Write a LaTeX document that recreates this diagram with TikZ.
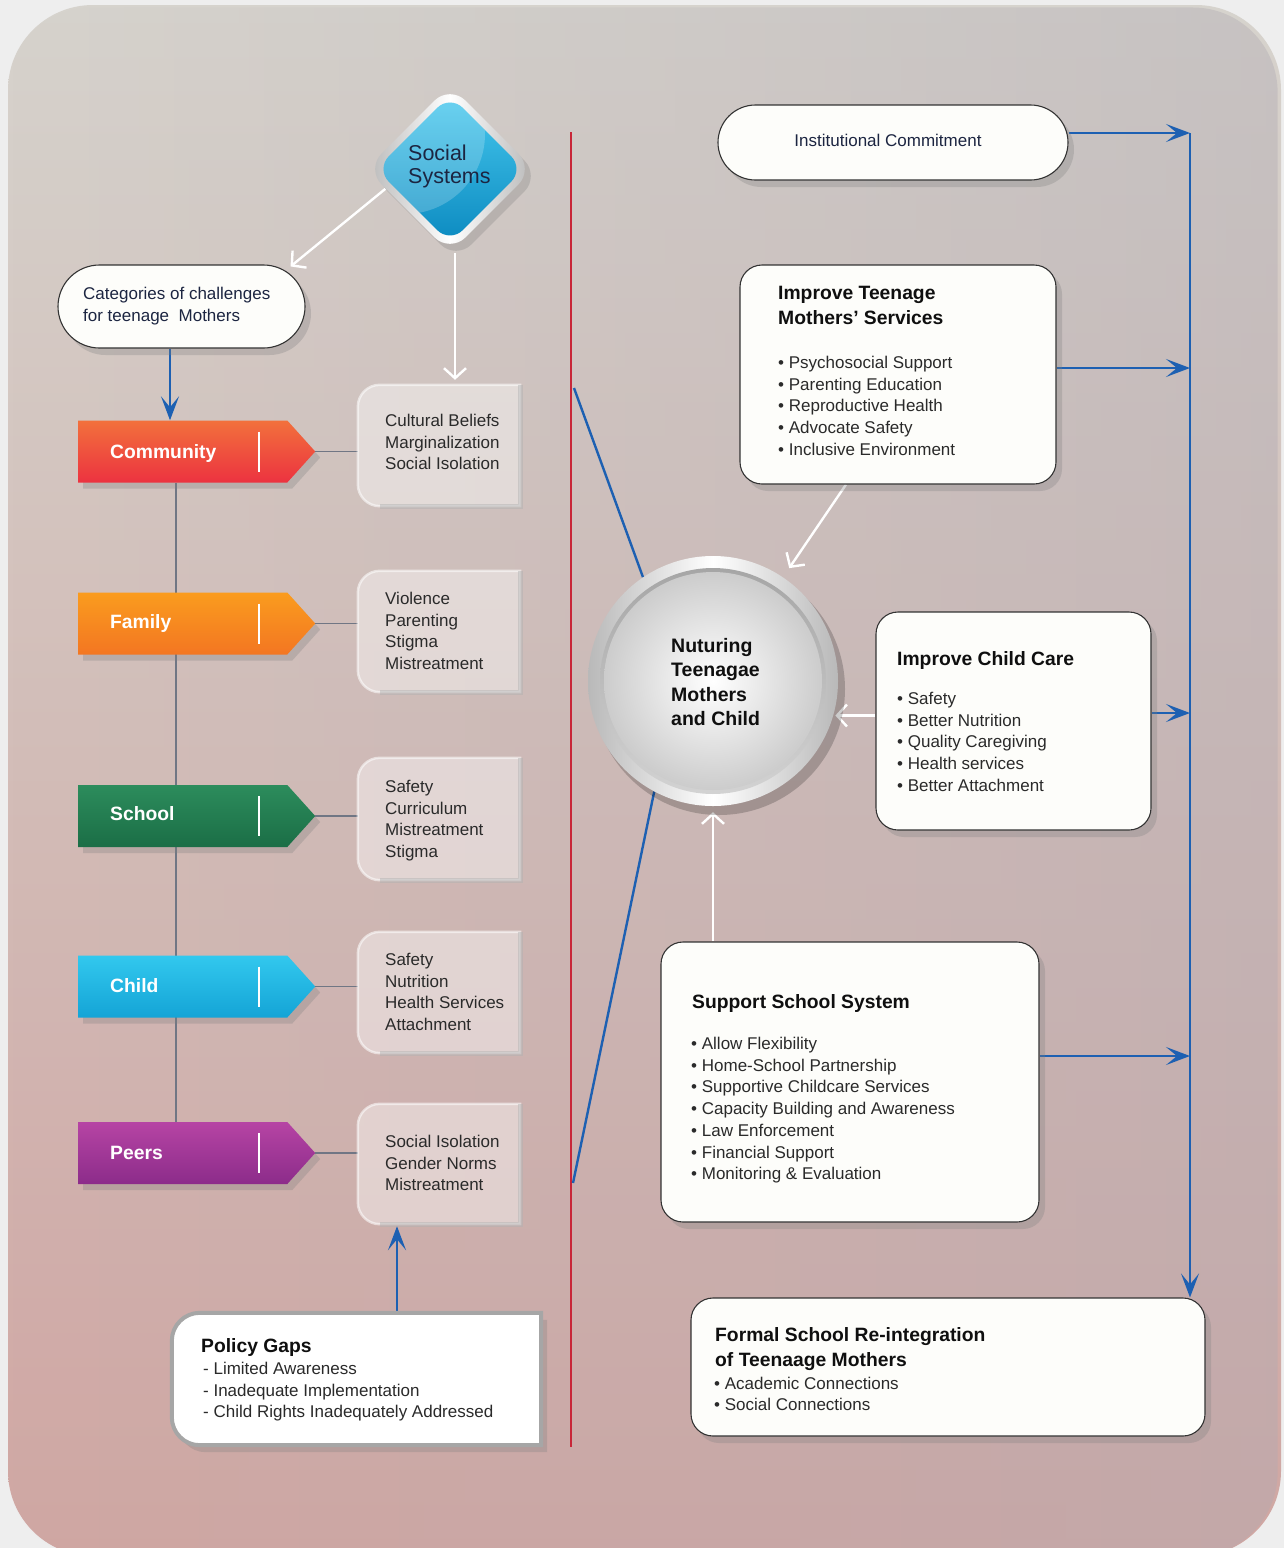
\documentclass[tikz,border=0pt]{standalone}
\usepackage{fontspec}
\setmainfont{Liberation Sans}
\usetikzlibrary{arrows.meta,shapes.geometric,shapes.symbols,shadows,calc,fadings}

\definecolor{pageGrey}{RGB}{238,238,238}
\definecolor{bgTop}{RGB}{214,211,205}
\definecolor{bgMid}{RGB}{224,202,186}
\definecolor{bgBot}{RGB}{208,166,162}
\definecolor{bgTint}{RGB}{176,170,178}
\definecolor{linkBlue}{RGB}{29,96,178}
\definecolor{dividerRed}{RGB}{200,38,56}
\definecolor{trunkGrey}{RGB}{112,118,132}
\definecolor{inkDark}{RGB}{42,42,42}
\definecolor{inkBlack}{RGB}{15,15,15}
\definecolor{inkNavy}{RGB}{28,37,65}
\definecolor{paper}{RGB}{253,253,250}
\definecolor{comTop}{RGB}{242,112,60}
\definecolor{comBot}{RGB}{236,50,64}
\definecolor{famTop}{RGB}{250,156,30}
\definecolor{famBot}{RGB}{243,118,34}
\definecolor{schTop}{RGB}{44,140,92}
\definecolor{schBot}{RGB}{27,110,70}
\definecolor{chiTop}{RGB}{50,200,238}
\definecolor{chiBot}{RGB}{20,164,214}
\definecolor{peeTop}{RGB}{182,68,164}
\definecolor{peeBot}{RGB}{140,44,138}
\definecolor{glossTop}{RGB}{70,200,238}
\definecolor{glossBot}{RGB}{12,138,192}

\tikzfading[name=towardright, left color=transparent!100, right color=transparent!0]

\pgfdeclarelayer{back}
\pgfdeclarelayer{links}
\pgfsetlayers{back,links,main}

% box with rounded left corners and square right corners, drawn round a node
\newcommand\leftroundbox[3]{%
  \path[#3] ([xshift=#2]#1.north west) -- (#1.north east) -- (#1.south east)
    -- ([xshift=#2]#1.south west)
    .. controls ([xshift=0.45*#2]#1.south west) and ([yshift=0.45*#2]#1.south west) .. ([yshift=#2]#1.south west)
    -- ([yshift=-#2]#1.north west)
    .. controls ([yshift=-0.45*#2]#1.north west) and ([xshift=0.45*#2]#1.north west) .. ([xshift=#2]#1.north west)
    -- cycle;}

\tikzset{
  softshadow/.style={drop shadow={shadow xshift=6pt, shadow yshift=-7pt, opacity=.3}},
  tagshape/.style={signal, signal to=east, signal pointer angle=96, minimum width=237pt,
    minimum height=62pt, inner sep=0pt, anchor=west,
    drop shadow={shadow xshift=5pt, shadow yshift=-6pt, opacity=.3}},
  taglabel/.style={text=white, font=\fontsize{19.3}{23}\selectfont\bfseries, inner sep=0pt,
    text height=13.8pt, text depth=0pt, anchor=west},
  tagrule/.style={white, line width=1.6pt},
  slot/.style={inner sep=0pt, minimum width=162pt},
  chframe/.style={fill=white, fill opacity=.42, draw=white, draw opacity=.55, line width=2.5pt},
  chedge/.style={draw=black!30, draw opacity=.5, line width=5pt},
  polframe/.style={fill=white, draw=black!35, line width=4pt, softshadow},
  bodytext/.style={font=\fontsize{17}{21.7}\selectfont, text=inkDark, align=left, inner sep=0pt, anchor=north west},
  headtext/.style={font=\fontsize{19.3}{25}\selectfont\bfseries, text=inkBlack, align=left, inner sep=0pt, anchor=north west},
  card/.style={draw=black!80, line width=1.1pt, fill=paper, rounded corners=22pt, inner sep=0pt, softshadow},
  pill/.style={card, rounded corners=#1},
  bluelink/.style={draw=linkBlue, line width=2.4pt},
  bluearrow/.style={bluelink, -{Stealth[length=24pt,width=18pt,inset=11pt]}},
  whitearrow/.style={draw=white, line width=2.4pt, -{Straight Barb[length=10pt,width=22pt]}},
  greylink/.style={draw=trunkGrey, line width=1.6pt},
  redline/.style={draw=dividerRed, line width=2.6pt},
}

\begin{document}
\begin{tikzpicture}[x=1pt,y=-1pt]
\useasboundingbox (0,0) rectangle (1284,1548);

% ---------- background panel ----------
\begin{pgfonlayer}{back}
  \fill[pageGrey] (0,0) rectangle (1284,1548);
  \shade[top color=bgTop, middle color=bgMid, bottom color=bgBot, rounded corners=85pt]
    (8,5) rectangle (1281,1556);
  \fill[bgTint, opacity=.4, path fading=towardright, rounded corners=85pt]
    (8,5) rectangle (1281,1556);
\end{pgfonlayer}

% ---------- social systems diamond ----------
\node[diamond, minimum width=168pt, minimum height=168pt, inner sep=0pt, rounded corners=22pt,
      left color=gray!55, right color=gray!55, middle color=white, softshadow] (soc) at (450,169) {};
\node[diamond, minimum width=148pt, minimum height=148pt, inner sep=0pt, rounded corners=18pt,
      top color=glossTop, bottom color=glossBot,
      path picture={\fill[white, opacity=.2] ([xshift=-45pt,yshift=35pt]path picture bounding box.center) circle[radius=80pt];}]
      (socin) at (soc.center) {};
\node[font=\fontsize{21.5}{23}\selectfont, text=inkNavy, align=left, inner sep=0pt, anchor=north west]
      (soctxt) at (408,145) {Social\\Systems};

% ---------- categories pill ----------
\node[pill=41.5pt, minimum width=247pt, minimum height=83pt] (cat) at (181.5,306.5) {};
\node[bodytext, text=inkNavy] (catt) at (83,287) {Categories of challenges\\for teenage~ Mothers};

% ---------- category tags ----------
\node[tagshape, top color=comTop, bottom color=comBot] (t1) at (78,451.5) {};
\node[tagshape, top color=famTop, bottom color=famBot] (t2) at (78,623.5) {};
\node[tagshape, top color=schTop, bottom color=schBot] (t3) at (78,816) {};
\node[tagshape, top color=chiTop, bottom color=chiBot] (t4) at (78,986.5) {};
\node[tagshape, top color=peeTop, bottom color=peeBot] (t5) at (78,1153) {};
\foreach \t in {t1,t2,t3,t4,t5}
  \draw[tagrule] ([xshift=181pt,yshift=20pt]\t.west) -- ([xshift=181pt,yshift=-20pt]\t.west);
\node[taglabel] (t1l) at (110,451.5) {Community};
\node[taglabel] (t2l) at (110,622) {Family};
\node[taglabel] (t3l) at (110,814) {School};
\node[taglabel] (t4l) at (110,985.5) {Child};
\node[taglabel] (t5l) at (110,1153) {Peers};

% ---------- challenge boxes ----------
\node[slot, minimum height=121pt] (c1) at (439,445.5) {};
\node[slot, minimum height=121pt] (c2) at (439,631.5) {};
\node[slot, minimum height=122pt] (c3) at (439,819) {};
\node[slot, minimum height=121pt] (c4) at (439,992.5) {};
\node[slot, minimum height=120pt] (c5) at (439,1164) {};
\foreach \c in {c1,c2,c3,c4,c5}{
  \leftroundbox{\c}{22pt}{chframe}
  \draw[chedge] (\c.north east) -- (\c.south east) -- ([xshift=22pt]\c.south west);
}
\node[bodytext] (c1t) at (385,414) {Cultural Beliefs\\Marginalization\\Social Isolation};
\node[bodytext] (c2t) at (385,592) {Violence\\Parenting\\Stigma\\Mistreatment};
\node[bodytext] (c3t) at (385,780) {Safety\\Curriculum\\Mistreatment\\Stigma};
\node[bodytext] (c4t) at (385,953) {Safety\\Nutrition\\Health Services\\Attachment};
\node[bodytext] (c5t) at (385,1135) {Social Isolation\\Gender Norms\\Mistreatment};

% ---------- policy gaps ----------
\node[inner sep=0pt, minimum width=369pt, minimum height=132pt] (pol) at (356.5,1379) {};
\leftroundbox{pol}{28pt}{polframe}
\node[headtext] (polh) at (201,1338) {Policy Gaps};
\node[bodytext, font=\fontsize{17}{21.5}\selectfont] (poll) at (203,1362)
  {- Limited Awareness\\- Inadequate Implementation\\- Child Rights Inadequately Addressed};

% ---------- central hub ----------
\node[circle, minimum size=250pt, inner sep=0pt] (hub) at (713,681) {};
\fill[black, opacity=.2] ([xshift=6pt,yshift=-8pt]hub.center) circle[radius=126pt];
\shade[left color=gray!55, right color=gray!55, middle color=white] (hub.center) circle[radius=125pt];
\shade[top color=gray!70, bottom color=gray!35] (hub.center) circle[radius=113pt];
\shade[inner color=white, outer color=gray!40] (hub.center) circle[radius=109pt];
\node[font=\fontsize{19.5}{24.5}\selectfont\bfseries, text=inkBlack, align=left, inner sep=0pt, anchor=north west]
  (hubt) at (671,638) {Nuturing\\Teenagae\\Mothers\\and Child};

% ---------- right column cards ----------
\node[pill=37.5pt, minimum width=350pt, minimum height=75pt] (inst) at (893,142.5) {};
\node[text=inkNavy, font=\fontsize{17}{20}\selectfont, inner sep=0pt] (instt) at (888,140) {Institutional Commitment};
\node[card, minimum width=316pt, minimum height=219pt] (svc) at (898,374.5) {};
\node[card, minimum width=275pt, minimum height=218pt] (care) at (1013.5,721) {};
\node[card, minimum width=378pt, minimum height=280pt] (sch) at (850,1082) {};
\node[card, minimum width=514pt, minimum height=138pt] (form) at (948,1367) {};

\node[headtext] (svch) at (778,286) {Improve Teenage\\Mothers’ Services};
\node[bodytext] (svcl) at (778,356) {• Psychosocial Support\\• Parenting Education\\• Reproductive Health\\• Advocate Safety\\• Inclusive Environment};

\node[headtext] (careh) at (897,651) {Improve Child Care};
\node[bodytext] (carel) at (897,692) {• Safety\\• Better Nutrition\\• Quality Caregiving\\• Health services\\• Better Attachment};

\node[headtext] (schh) at (692,994) {Support School System};
\node[bodytext] (schl) at (691,1037) {• Allow Flexibility\\• Home-School Partnership\\• Supportive Childcare Services\\• Capacity Building and Awareness\\• Law Enforcement\\• Financial Support\\• Monitoring \& Evaluation};

\node[headtext] (formh) at (715,1327) {Formal School Re-integration\\of Teenaage Mothers};
\node[bodytext, font=\fontsize{17}{21}\selectfont] (forml) at (714,1377) {• Academic Connections\\• Social Connections};

% ---------- connectors ----------
\coordinate (redTop) at (571,132);
\coordinate (redBot) at (571,1447);
\coordinate (rA) at (574,388);
\coordinate (rB) at (573,1183);
\coordinate (j1) at (1190,133);
\coordinate (j2) at (1190,368);
\coordinate (j3) at (1190,713);
\coordinate (j4) at (1190,1056);

\begin{pgfonlayer}{links}
  % left column
  \draw[greylink] ([xshift=98pt]t1.south west) -- ([xshift=98pt]t5.north west);
  \foreach \t/\c in {t1/c1,t2/c2,t3/c3,t4/c4,t5/c5}
    \draw[greylink] (\t.east) -- (\c.west |- \t.east);
  \draw[bluearrow] ([xshift=-11.5pt]cat.south) -- ([xshift=92pt]t1.north west);
  \draw[bluearrow, shorten >=2pt] ([xshift=40.5pt]pol.north) -- ([xshift=-42pt]c5.south);
  \draw[whitearrow] (soc.197) -- ([xshift=-15pt,yshift=-2pt]cat.north east);
  \draw[whitearrow] ([xshift=5pt]soc.south) -- ([xshift=16pt,yshift=5pt]c1.north);
  % divider and hub spokes
  \draw[redline] (redTop) -- (redBot);
  \draw[bluelink] (rA) -- (hub.124);
  \draw[bluelink] (hub.242) -- (rB);
  % right column
  \draw[whitearrow, shorten >=11pt] ([xshift=-52pt]svc.south) -- (hub.56);
  \draw[whitearrow, shorten >=2pt] (care.west |- hub.-16) -- (hub.-16);
  \draw[whitearrow, shorten >=6pt] (sch.north -| hub.south) -- (hub.south);
  \draw[bluearrow] (inst.east |- j1) -- (j1);
  \draw[bluearrow] (svc.east |- j2) -- (j2);
  \draw[bluearrow] (care.east |- j3) -- (j3);
  \draw[bluearrow] (sch.east |- j4) -- (j4);
  \draw[bluearrow] (j1) -- (j1 |- form.north);
\end{pgfonlayer}
\end{tikzpicture}
\end{document}
